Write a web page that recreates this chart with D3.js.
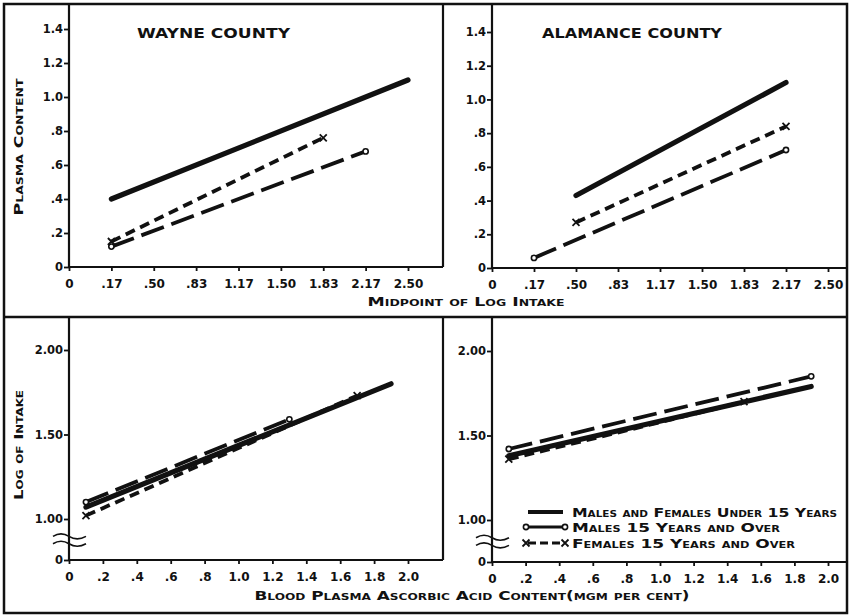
<!DOCTYPE html>
<html>
<head>
<meta charset="utf-8">
<script src="https://cdn.jsdelivr.net/npm/d3@7"></script>
<style>
  body { margin: 0; background: #fff; }
  svg { display: block; }
  text { font-family: "DejaVu Sans", sans-serif; font-weight: bold; fill: #111; }
</style>
</head>
<body>
<svg width="851" height="616"></svg>
<script>
// tick labels
var midpointTicks = ["0", ".17", ".50", ".83", "1.17", "1.50", "1.83", "2.17", "2.50"];
var plasmaTicks = [0, 0.2, 0.4, 0.6, 0.8, 1.0, 1.2, 1.4];
var plasmaTickLabels = ["0", ".2", ".4", ".6", ".8", "1.0", "1.2", "1.4"];
var intakeTicks = [0, 1.0, 1.5, 2.0];
var intakeTickLabels = ["0", "1.00", "1.50", "2.00"];
var ascorbicTicks = [0, 0.2, 0.4, 0.6, 0.8, 1.0, 1.2, 1.4, 1.6, 1.8, 2.0];
var ascorbicTickLabels = ["0", ".2", ".4", ".6", ".8", "1.0", "1.2", "1.4", "1.6", "1.8", "2.0"];

var groups = ["Males and Females Under 15 Years", "Males 15 Years and Over", "Females 15 Years and Over"];
var counties = ["Wayne County", "Alamance County"];

// plasma content by midpoint of log intake
var wayneUnder15 = [{x: ".17", y: 0.40}, {x: "2.50", y: 1.10}];
var wayneMales = [{x: ".17", y: 0.12}, {x: "2.17", y: 0.68}];
var wayneFemales = [{x: ".17", y: 0.15}, {x: "1.83", y: 0.76}];
var alamanceUnder15 = [{x: ".50", y: 0.43}, {x: "2.17", y: 1.10}];
var alamanceMales = [{x: ".17", y: 0.06}, {x: "2.17", y: 0.70}];
var alamanceFemales = [{x: ".50", y: 0.27}, {x: "2.17", y: 0.84}];

// log of intake by blood plasma ascorbic acid
var wayneIntakeUnder15 = [{x: 0.1, y: 1.07}, {x: 1.9, y: 1.80}];
var wayneIntakeMales = [{x: 0.1, y: 1.10}, {x: 1.3, y: 1.59}];
var wayneIntakeFemales = [{x: 0.1, y: 1.02}, {x: 1.7, y: 1.73}];
var alamanceIntakeUnder15 = [{x: 0.1, y: 1.38}, {x: 1.9, y: 1.79}];
var alamanceIntakeMales = [{x: 0.1, y: 1.42}, {x: 1.9, y: 1.85}];
var alamanceIntakeFemales = [{x: 0.1, y: 1.36}, {x: 1.5, y: 1.70}];

var lineStyles = [
  {dash: null, width: 5.2, marker: null},
  {dash: "24,8", width: 3.8, marker: "o"},
  {dash: "10,6", width: 3.8, marker: "x"}
];

const svg = d3.select("svg");

// outer frame and dividers
svg.append("rect").attr("x", 4).attr("y", 4).attr("width", 843).attr("height", 609)
  .attr("fill", "none").attr("stroke", "#111").attr("stroke-width", 2.5);
svg.append("line").attr("x1", 4).attr("x2", 847).attr("y1", 317).attr("y2", 317)
  .attr("stroke", "#111").attr("stroke-width", 2.5);

function drawMarker(g, type, x, y) {
  if (type == "o") {
    g.append("circle").attr("cx", x).attr("cy", y).attr("r", 2.6)
      .attr("fill", "#fff").attr("stroke", "#111").attr("stroke-width", 1.6);
  } else if (type == "x") {
    g.append("path")
      .attr("d", `M${x-3.5},${y-3.5}L${x+3.5},${y+3.5}M${x-3.5},${y+3.5}L${x+3.5},${y-3.5}`)
      .attr("stroke", "#111").attr("stroke-width", 1.8);
  }
}

function drawPanel(p) {
  const g = svg.append("g");
  const x0 = p.xScale.range()[0];
  const yBase = p.yScale(0);

  // axis lines run to the panel edges
  g.append("line").attr("x1", x0).attr("x2", x0).attr("y1", p.top).attr("y2", yBase)
    .attr("stroke", "#111").attr("stroke-width", 2.2);
  g.append("line").attr("x1", x0).attr("x2", p.right).attr("y1", yBase).attr("y2", yBase)
    .attr("stroke", "#111").attr("stroke-width", 2.2);

  const yAxis = d3.axisLeft(p.yScale).tickValues(p.yTicks)
    .tickFormat((d, i) => p.yLabels[i]).tickSize(5).tickPadding(1);
  const ya = g.append("g").attr("transform", `translate(${x0},0)`).call(yAxis);
  ya.select(".domain").remove();
  ya.selectAll("line").attr("stroke", "#111").attr("stroke-width", 1.8);
  ya.selectAll("text").style("font-size", "11.5px").attr("fill", "#111");

  const xAxis = d3.axisBottom(p.xScale).tickSize(4).tickPadding(8);
  if (p.xTicks) xAxis.tickValues(p.xTicks).tickFormat((d, i) => p.xLabels[i]);
  const xa = g.append("g").attr("transform", `translate(0,${yBase})`).call(xAxis);
  xa.select(".domain").remove();
  xa.selectAll("line").attr("stroke", "#111").attr("stroke-width", 1.8);
  xa.selectAll("text").style("font-size", "12px").attr("fill", "#111");

  // axis break between 0 and 1.00
  if (p.broken) {
    [0.6, 0.42].forEach(v => {
      const yb = p.yScale(v);
      g.append("path")
        .attr("d", `M${x0-16},${yb+1}q8,-5 16,0t17,0`)
        .attr("fill", "none").attr("stroke", "#111").attr("stroke-width", 1.6);
    });
  }

  const line = d3.line().x(d => p.xScale(d.x)).y(d => p.yScale(d.y));
  p.series.forEach((s, i) => {
    const st = lineStyles[i];
    g.append("path").datum(s)
      .attr("fill", "none").attr("stroke", "#111")
      .attr("stroke-width", st.width)
      .attr("stroke-linecap", st.dash ? "butt" : "round")
      .attr("stroke-dasharray", st.dash)
      .attr("d", line);
    if (st.marker) {
      s.forEach(d => drawMarker(g, st.marker, p.xScale(d.x), p.yScale(d.y)));
    }
  });

  if (p.title) {
    g.append("text").attr("x", p.title.x).attr("y", 38)
      .attr("textLength", p.title.len).attr("lengthAdjust", "spacingAndGlyphs")
      .style("font-size", "13.5px").text(p.title.text.toUpperCase());
  }
}

// top: plasma content vs midpoint of log intake
drawPanel({
  xScale: d3.scalePoint().domain(midpointTicks).range([69, 408]),
  yScale: d3.scaleLinear().domain([0, 1.4]).range([267, 29]),
  yTicks: plasmaTicks, yLabels: plasmaTickLabels,
  top: 4, right: 443,
  series: [wayneUnder15, wayneMales, wayneFemales],
  title: {text: counties[0], x: 137, len: 153}
});
drawPanel({
  xScale: d3.scalePoint().domain(midpointTicks).range([492, 828]),
  yScale: d3.scaleLinear().domain([0, 1.4]).range([268, 32]),
  yTicks: plasmaTicks, yLabels: plasmaTickLabels,
  top: 4, right: 847,
  series: [alamanceUnder15, alamanceMales, alamanceFemales],
  title: {text: counties[1], x: 542, len: 180}
});

// bottom: log of intake vs blood plasma ascorbic acid
drawPanel({
  xScale: d3.scaleLinear().domain([0, 2.0]).range([69, 408]),
  yScale: d3.scaleLinear().domain([0, 1, 2]).range([560, 519, 350]),
  yTicks: intakeTicks, yLabels: intakeTickLabels,
  xTicks: ascorbicTicks, xLabels: ascorbicTickLabels,
  top: 317, right: 443, broken: true,
  series: [wayneIntakeUnder15, wayneIntakeMales, wayneIntakeFemales]
});
drawPanel({
  xScale: d3.scaleLinear().domain([0, 2.0]).range([492, 828]),
  yScale: d3.scaleLinear().domain([0, 1, 2]).range([562, 520, 351]),
  yTicks: intakeTicks, yLabels: intakeTickLabels,
  xTicks: ascorbicTicks, xLabels: ascorbicTickLabels,
  top: 317, right: 847, broken: true,
  series: [alamanceIntakeUnder15, alamanceIntakeMales, alamanceIntakeFemales]
});

// vertical dividers between left and right panels
svg.append("line").attr("x1", 443).attr("x2", 443).attr("y1", 4).attr("y2", 267)
  .attr("stroke", "#111").attr("stroke-width", 2.2);
svg.append("line").attr("x1", 443).attr("x2", 443).attr("y1", 317).attr("y2", 560)
  .attr("stroke", "#111").attr("stroke-width", 2.2);

// axis titles
function axisTitle(text, x, y, len, rotate) {
  svg.append("text")
    .attr("transform", `translate(${x},${y})` + (rotate ? " rotate(-90)" : ""))
    .attr("text-anchor", "middle")
    .attr("textLength", len).attr("lengthAdjust", "spacingAndGlyphs")
    .style("font-size", "12.5px").style("font-variant", "small-caps")
    .text(text);
}
axisTitle("Plasma Content", 23, 147, 137, true);
axisTitle("Midpoint of Log Intake", 466, 306, 197, false);
axisTitle("Log of Intake", 23, 445, 110, true);
axisTitle("Blood Plasma Ascorbic Acid Content(mgm per cent)", 472, 600, 435, false);

// legend
const legend = svg.append("g");
const legendRows = [512, 527, 543];
const legendLens = [265, 208, 223];
groups.forEach((name, i) => {
  const st = lineStyles[i];
  const y = legendRows[i];
  legend.append("line").attr("x1", 528).attr("x2", 563).attr("y1", y).attr("y2", y)
    .attr("stroke", "#111").attr("stroke-width", st.width - 1)
    .attr("stroke-dasharray", st.dash ? (i == 1 ? "30,0" : "8,4") : null);
  if (st.marker) {
    drawMarker(legend, st.marker, 526, y);
    drawMarker(legend, st.marker, 565, y);
  }
  legend.append("text").attr("x", 572).attr("y", y + 4.5)
    .attr("textLength", legendLens[i]).attr("lengthAdjust", "spacingAndGlyphs")
    .style("font-size", "12px").style("font-variant", "small-caps")
    .text(name);
});
</script>
</body>
</html>
